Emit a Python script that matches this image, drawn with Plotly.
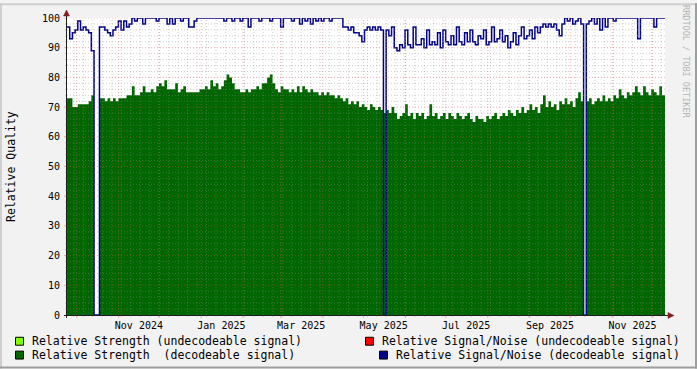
import plotly.graph_objects as go
import pandas as pd

# ---------------- data ----------------
START = "2024-09-23 20:00"
END = "2025-12-10 00:48"
STEP = "2D"

strength = [
    73, 73, 70, 70, 71, 71, 71, 71, 72, 74,   # 0-9
    0, 0, 73, 73, 72, 73, 72, 73, 72, 73,     # 10-19
    73, 73, 74, 74, 77, 74, 74, 75, 77, 75,   # 20-29
    75, 76, 75, 77, 78, 77, 79, 76, 76, 76,   # 30-39
    78, 75, 76, 77, 75, 75, 75, 75, 75, 76,   # 40-49
    76, 77, 76, 79, 77, 78, 76, 77, 79, 81,   # 50-59
    80, 78, 76, 76, 75, 75, 76, 75, 76, 76,   # 60-69
    77, 76, 78, 78, 80, 81, 78, 76, 75, 77,   # 70-79
    76, 76, 75, 76, 75, 77, 75, 77, 76, 75,   # 80-89
    76, 75, 75, 74, 75, 74, 75, 74, 74, 73,   # 90-99
    74, 73, 72, 73, 71, 72, 71, 72, 70, 71,   # 100-109
    70, 69, 71, 70, 69, 70, 69, 68, 69, 68,   # 110-119
    70, 68, 66, 67, 68, 71, 67, 68, 66, 68,   # 120-129
    67, 68, 66, 67, 71, 67, 68, 66, 67, 68,   # 130-139
    66, 68, 67, 66, 68, 67, 66, 67, 68, 66,   # 140-149
    65, 67, 66, 66, 65, 67, 66, 67, 68, 66,   # 150-159
    67, 68, 67, 69, 68, 67, 69, 68, 70, 68,   # 160-169
    69, 71, 69, 70, 68, 71, 74, 70, 72, 70,   # 170-179
    71, 69, 72, 71, 73, 71, 72, 70, 73, 75,   # 180-189
    72, 0, 72, 73, 71, 72, 73, 72, 74, 72,    # 190-199
    73, 72, 74, 73, 76, 74, 73, 75, 74, 75,   # 200-209
    77, 75, 74, 77, 75, 74, 76, 75, 74, 77,   # 210-219
    74,                                        # 220
]

snr = [
    97, 93, 95, 96, 99, 96, 97, 96, 95, 89,   # 0-9
    0, 0, 97, 97, 96, 95, 94, 96, 97, 99,     # 10-19
    96, 99, 97, 98, 100, 99, 100, 100, 98, 100,   # 20-29
    100, 100, 100, 99, 100, 100, 100, 98, 100, 98,  # 30-39
    100, 100, 99, 100, 100, 97, 97, 99, 100, 100,   # 40-49
    100, 100, 100, 100, 100, 100, 100, 100, 99, 100,  # 50-59
    100, 99, 100, 100, 99, 100, 100, 97, 100, 100,  # 60-69
    100, 99, 100, 100, 100, 99, 100, 100, 100, 97,  # 70-79
    100, 100, 100, 99, 100, 100, 98, 100, 99, 100,  # 80-89
    98, 100, 99, 100, 99, 100, 100, 99, 100, 100,   # 90-99
    100, 100, 97, 97, 96, 97, 95, 95, 94, 92,       # 100-109
    96, 97, 96, 97, 96, 97, 96, 0, 96, 94,          # 110-119
    97, 90, 89, 91, 90, 96, 91, 90, 97, 91,         # 120-129
    91, 93, 90, 96, 91, 92, 91, 95, 90, 96,         # 130-139
    92, 91, 94, 91, 97, 92, 91, 95, 92, 96,         # 140-149
    92, 91, 94, 93, 96, 91, 92, 97, 92, 93,         # 150-159
    96, 92, 94, 90, 92, 95, 91, 94, 97, 93,         # 160-169
    94, 96, 93, 97, 95, 97, 98, 97, 98, 97,         # 170-179
    98, 96, 94, 98, 100, 99, 100, 98, 99, 100,      # 180-189
    98, 0, 98, 99, 100, 98, 100, 96, 100, 97,       # 190-199
    100, 100, 99, 100, 100, 100, 100, 100, 100, 100,  # 200-209
    100, 93, 100, 100, 100, 100, 100, 97, 100, 100,   # 210-219
    100,                                               # 220
]

y_ticks = [0, 10, 20, 30, 40, 50, 60, 70, 80, 90, 100]
x_label_dates = ["2024-11-16", "2025-01-16", "2025-03-16", "2025-05-16",
                 "2025-07-16", "2025-09-16", "2025-11-16"]
x_label_text = ["Nov 2024", "Jan 2025", "Mar 2025", "May 2025",
                "Jul 2025", "Sep 2025", "Nov 2025"]
month_lines = pd.date_range("2024-10-01", "2025-12-01", freq="MS")
week_lines = pd.date_range("2024-09-29", "2025-12-07", freq="7D")

legend_items = [
    ("Relative Strength (undecodeable signal)", "#80FF00"),
    ("Relative Strength  (decodeable signal)", "#006600"),
    ("Relative Signal/Noise (undecodeable signal)", "#FF0000"),
    ("Relative Signal/Noise (decodeable signal)", "#000088"),
]

# ---------------- layout geometry ----------------
W, H = 697, 369
L, R, T, B = 67, 665, 15, 315
PW, PH = R - L, B - T
FONT = "DejaVu Sans Mono"


def xp(px):
    return (px - L) / PW


def yp(py):
    return (B - py) / PH


dates = pd.date_range(START, periods=len(strength), freq=STEP)
x_vals = list(dates) + [pd.Timestamp(END)]
s_vals = strength + [strength[-1]]
n_vals = snr + [snr[-1]]

fig = go.Figure()
fig.add_trace(go.Scatter(
    x=x_vals, y=s_vals, mode="lines", line=dict(width=0, shape="hv"),
    fill="tozeroy", fillcolor="#006600", hoverinfo="skip", showlegend=False))
fig.add_trace(go.Scatter(
    x=x_vals, y=n_vals, mode="lines",
    line=dict(width=1.5, shape="hv", color="#000088"),
    hoverinfo="skip", showlegend=False))

GRID = "rgba(143,143,143,0.42)"
MGRID = "rgba(222,79,79,0.45)"
DASH = "1px,2px"
shapes = []

# outer shading
shapes += [
    dict(type="rect", xref="paper", yref="paper", x0=xp(0), x1=xp(W), y0=yp(0), y1=yp(2),
         fillcolor="#CFCFCF", line_width=0, layer="below"),
    dict(type="rect", xref="paper", yref="paper", x0=xp(0), x1=xp(2), y0=yp(0), y1=yp(H),
         fillcolor="#CFCFCF", line_width=0, layer="below"),
    dict(type="rect", xref="paper", yref="paper", x0=xp(0), x1=xp(W), y0=yp(H - 2), y1=yp(H),
         fillcolor="#9E9E9E", line_width=0, layer="below"),
    dict(type="rect", xref="paper", yref="paper", x0=xp(W - 2), x1=xp(W), y0=yp(0), y1=yp(H),
         fillcolor="#9E9E9E", line_width=0, layer="below"),
]

# horizontal grid
for v in range(2, 101, 2):
    major = v % 10 == 0
    col = MGRID if major else GRID
    shapes.append(dict(type="line", xref="paper", yref="y", x0=0, x1=1, y0=v, y1=v,
                       line=dict(color=col, width=1, dash=DASH), layer="above"))
    shapes.append(dict(type="line", xref="paper", yref="y", x0=xp(L - (3 if major else 2)), x1=0,
                       y0=v, y1=v, line=dict(color=col, width=1), layer="above"))
# vertical grid
for d in week_lines:
    shapes.append(dict(type="line", xref="x", yref="paper", x0=d, x1=d, y0=0, y1=1,
                       line=dict(color=GRID, width=1, dash=DASH), layer="above"))
    shapes.append(dict(type="line", xref="x", yref="paper", x0=d, x1=d, y0=yp(B + 2), y1=0,
                       line=dict(color=GRID, width=1), layer="above"))
for d in month_lines:
    shapes.append(dict(type="line", xref="x", yref="paper", x0=d, x1=d, y0=0, y1=1,
                       line=dict(color=MGRID, width=1, dash=DASH), layer="above"))
    shapes.append(dict(type="line", xref="x", yref="paper", x0=d, x1=d, y0=yp(B + 3), y1=0,
                       line=dict(color=MGRID, width=1), layer="above"))

# axes and arrows
AX = "#1F1F1F"
AR = "#801F1F"
shapes.append(dict(type="line", xref="paper", yref="paper", x0=xp(L - 0.5), x1=xp(L - 0.5),
                   y0=yp(B + 3), y1=yp(T - 4), line=dict(color=AX, width=1), layer="above"))
shapes.append(dict(type="line", xref="paper", yref="paper", x0=xp(L - 3), x1=xp(R + 5),
                   y0=yp(B + 0.5), y1=yp(B + 0.5), line=dict(color=AX, width=1), layer="above"))
shapes.append(dict(type="path", xref="paper", yref="paper",
                   path=f"M {xp(L-3.5)} {yp(T-2)} L {xp(L+2.5)} {yp(T-2)} L {xp(L-0.5)} {yp(T-8)} Z",
                   fillcolor=AR, line=dict(color=AR, width=0.5), layer="above"))
shapes.append(dict(type="path", xref="paper", yref="paper",
                   path=f"M {xp(R+3)} {yp(B-2.5)} L {xp(R+3)} {yp(B+3.5)} L {xp(R+9)} {yp(B+0.5)} Z",
                   fillcolor=AR, line=dict(color=AR, width=0.5), layer="above"))

# legend
annotations = []
leg_pos = [(15, 341.5, 30), (15, 355.5, 30), (365, 341.5, 380), (379, 355.5, 394)]
for (label, color), (bx, cy, tx) in zip(legend_items, leg_pos):
    shapes.append(dict(type="rect", xref="paper", yref="paper",
                       x0=xp(bx + 0.5), x1=xp(bx + 8.5), y0=yp(cy - 4), y1=yp(cy + 4),
                       fillcolor=color, line=dict(color="black", width=1), layer="above"))
    annotations.append(dict(xref="paper", yref="paper", x=xp(tx), y=yp(cy),
                            xanchor="left", yanchor="middle", showarrow=False, text=label,
                            font=dict(family=FONT, size=11.5, color="black")))

annotations.append(dict(xref="paper", yref="paper", x=xp(11), y=yp(165.5), xanchor="center",
                        yanchor="middle", textangle=-90, showarrow=False, text="Relative Quality",
                        font=dict(family=FONT, size=11.5, color="black")))
annotations.append(dict(xref="paper", yref="paper", x=xp(686.5), y=yp(59), xanchor="center",
                        yanchor="middle", textangle=90, showarrow=False,
                        text="RRDTOOL / TOBI OETIKER",
                        font=dict(family=FONT, size=8.5, color="#B4B4B4")))

fig.update_layout(
    width=W, height=H,
    margin=dict(l=L, r=W - R, t=T, b=H - B, pad=0),
    paper_bgcolor="#F2F2F2", plot_bgcolor="#FFFFFF",
    shapes=shapes, annotations=annotations, showlegend=False,
    font=dict(family=FONT, size=10, color="black"),
    xaxis=dict(type="date", range=[START, END], showgrid=False, zeroline=False,
               tickmode="array", tickvals=x_label_dates, ticktext=x_label_text,
               ticks="", showline=False, tickfont=dict(family=FONT, size=10),
               ticklabelstandoff=3, fixedrange=True),
    yaxis=dict(range=[0, 100], showgrid=False, zeroline=False, tickmode="array",
               tickvals=y_ticks, ticks="", showline=False,
               tickfont=dict(family=FONT, size=10), ticklabelstandoff=6, fixedrange=True),
)

fig.write_html("out.html", config={"displayModeBar": False},
               post_script="document.body.style.margin='0';document.body.style.padding='0';")
